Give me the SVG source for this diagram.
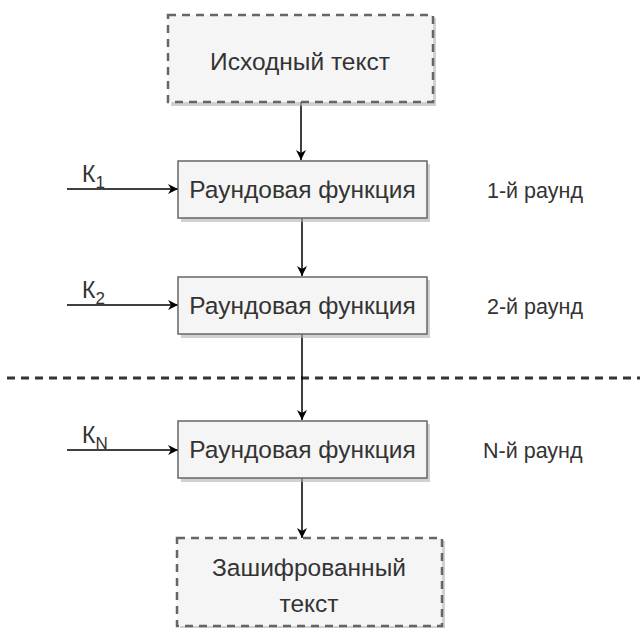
<svg xmlns="http://www.w3.org/2000/svg" width="640" height="628" viewBox="0 0 640 628">
<style>
.t{font-family:"Liberation Sans",Arial,sans-serif;fill:#333;}
.box{fill:#f5f5f5;stroke:#666;stroke-width:1.5;}
.dbox{fill:#f5f5f5;stroke:#666;stroke-width:2.5;stroke-dasharray:8 6;}
.sh{fill:#b3b3b3;opacity:0.6;}
.c{stroke:#000;stroke-width:1.5;fill:none;}
</style>
<defs>
<marker id="ar" viewBox="0 0 10 10" refX="10" refY="5" markerWidth="10" markerHeight="10" markerUnits="userSpaceOnUse" orient="auto">
<path d="M0,0 L10,5 L0,10 L3,5 Z" fill="#000"/>
</marker>
</defs>
<line x1="7" y1="378" x2="640" y2="378" stroke="#333" stroke-width="3" stroke-dasharray="8 6"/>
<g id="connectors">
<line class="c" x1="301" y1="102" x2="301" y2="160" marker-end="url(#ar)"/>
<line class="c" x1="302" y1="218" x2="302" y2="276" marker-end="url(#ar)"/>
<line class="c" x1="302" y1="334" x2="302" y2="420" marker-end="url(#ar)"/>
<line class="c" x1="302" y1="478" x2="302" y2="538" marker-end="url(#ar)"/>
<line class="c" x1="67" y1="189" x2="178" y2="189" marker-end="url(#ar)"/>
<line class="c" x1="67" y1="305" x2="178" y2="305" marker-end="url(#ar)"/>
<line class="c" x1="67" y1="450" x2="178" y2="450" marker-end="url(#ar)"/>
</g>
<g id="src">
<rect class="sh" x="171" y="18" width="265" height="88"/>
<rect class="dbox" x="168" y="15" width="265" height="87"/>
<text class="t" x="300" y="70" font-size="24.5" text-anchor="middle">Исходный текст</text>
</g>
<g id="r1">
<rect class="sh" x="181" y="164" width="249" height="58"/>
<rect class="box" x="178" y="161" width="249" height="57"/>
<text class="t" x="302.5" y="198" font-size="24.5" text-anchor="middle">Раундовая функция</text>
</g>
<g id="r2">
<rect class="sh" x="181" y="280" width="249" height="58"/>
<rect class="box" x="178" y="277" width="249" height="57"/>
<text class="t" x="302.5" y="314" font-size="24.5" text-anchor="middle">Раундовая функция</text>
</g>
<g id="rN">
<rect class="sh" x="181" y="424" width="249" height="58"/>
<rect class="box" x="178" y="421" width="249" height="57"/>
<text class="t" x="302.5" y="458" font-size="24.5" text-anchor="middle">Раундовая функция</text>
</g>
<g id="dst">
<rect class="sh" x="180" y="541" width="265" height="88"/>
<rect class="dbox" x="177" y="538" width="265" height="88"/>
<text class="t" x="309" y="576" font-size="24.5" text-anchor="middle">Зашифрованный</text>
<text class="t" x="309" y="612" font-size="24.5" text-anchor="middle">текст</text>
</g>
<g id="k1"><text class="t" x="82" y="182" font-size="23">К<tspan font-size="17" dy="6">1</tspan></text></g>
<g id="k2"><text class="t" x="82" y="298" font-size="23">К<tspan font-size="17" dy="6">2</tspan></text></g>
<g id="kN"><text class="t" x="82" y="443" font-size="23">К<tspan font-size="17" dy="6">N</tspan></text></g>
<g id="l1"><text class="t" x="487" y="198" font-size="21.5">1-й раунд</text></g>
<g id="l2"><text class="t" x="487" y="314" font-size="21.5">2-й раунд</text></g>
<g id="lN"><text class="t" x="483" y="458" font-size="21.5">N-й раунд</text></g>
</svg>
